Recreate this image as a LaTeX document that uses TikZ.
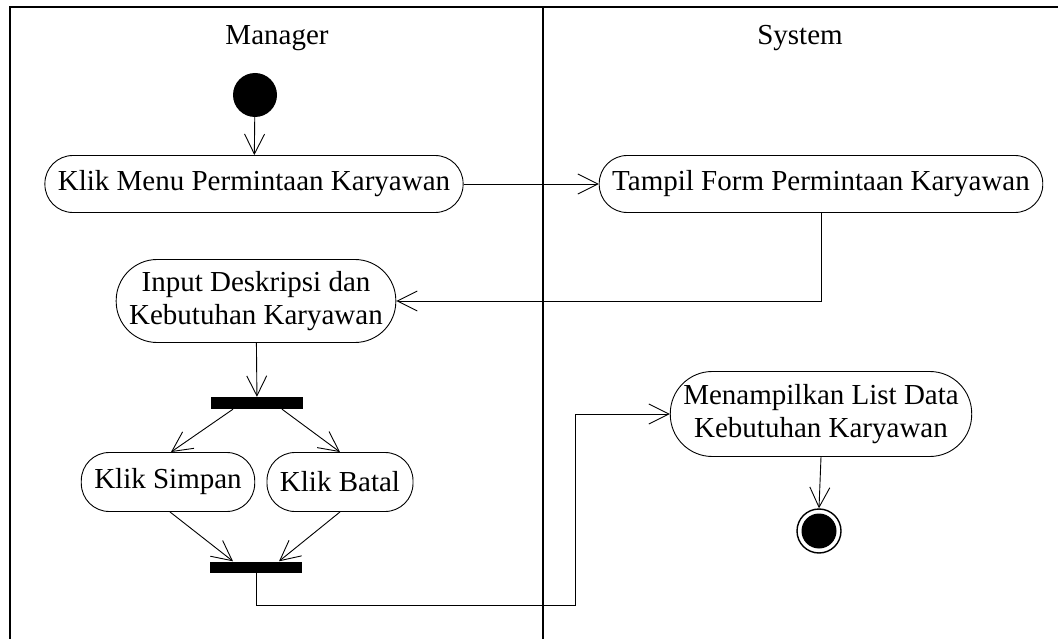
\documentclass[tikz,border=0pt]{standalone}
\usepackage{fontspec}
\setmainfont{Liberation Serif}
\usepackage{tikz}
\usetikzlibrary{arrows.meta, positioning}

\begin{document}
\begin{tikzpicture}[x=1pt, y=-1pt, font=\fontsize{29}{33}\selectfont]
    % Styles
    \tikzstyle{activity} = [rectangle, draw, line width=0.9pt, rounded corners=28pt, text centered, inner xsep=13pt, inner ysep=0pt, minimum height=57pt]
    \tikzstyle{activity2} = [activity, align=center, rounded corners=41pt, minimum height=83pt]
    \tikzstyle{bar} = [rectangle, fill=black, inner sep=0pt, minimum width=92pt, minimum height=12pt]
    \tikzstyle{arrow} = [line width=0.9pt, -{Straight Barb[length=20pt, width=20pt, line width=0.9pt]}]
    \tikzstyle{lane} = [line width=1.6pt]

    \useasboundingbox (0,0) rectangle (1058,639);

    % Swimlanes
    \draw [lane] (1058,7) -- (10,7) -- (10,639);
    \draw [lane] (543,7) -- (543,639);
    \node (manager) at (277,38) {Manager};
    \node (system) at (800,38) {System};

    % Nodes
    \node [circle, fill=black, inner sep=0pt, minimum size=44pt] (start) at (255,95) {};
    \node [activity] (menu) at (254,184) {Klik Menu Permintaan Karyawan};
    \node [activity] (form) at (821,184) {Tampil Form Permintaan Karyawan};
    \node [activity2] (input) at (256,301) {Input Deskripsi dan\\Kebutuhan Karyawan};
    \node [bar] (fork) at (257,403) {};
    \node [activity, minimum height=59pt] (simpan) at (168,482) {Klik Simpan};
    \node [activity, minimum height=59pt] (batal) at (340,482) {Klik Batal};
    \node [bar, minimum height=11pt] (join) at (256,567) {};
    \node [activity2, minimum height=85pt, rounded corners=42pt] (list) at (821,414) {Menampilkan List Data\\Kebutuhan Karyawan};
    \node [circle, draw, line width=1.4pt, inner sep=0pt, minimum size=44pt,
           path picture={\fill (path picture bounding box.center) circle (17.5pt);}] (end) at (819,531) {};
    \coordinate (bend) at (575,605);

    % Arrows
    \draw [arrow] (start) -- (menu);
    \draw [arrow] (menu) -- (form);
    \draw [arrow] (form.south) |- (input.east);
    \draw [arrow] (input) -- (fork);
    \draw [arrow] ([xshift=-24pt]fork.south) -- ([xshift=3pt]simpan.north);
    \draw [arrow] ([xshift=25pt]fork.south) -- (batal.north);
    \draw [arrow] ([xshift=2pt]simpan.south) -- ([xshift=-23pt]join.north);
    \draw [arrow] (batal.south) -- ([xshift=23pt]join.north);
    \draw [arrow] (join.south) |- (bend) |- (list.west);
    \draw [arrow] (list.south) -- (end.north);
\end{tikzpicture}
\end{document}
